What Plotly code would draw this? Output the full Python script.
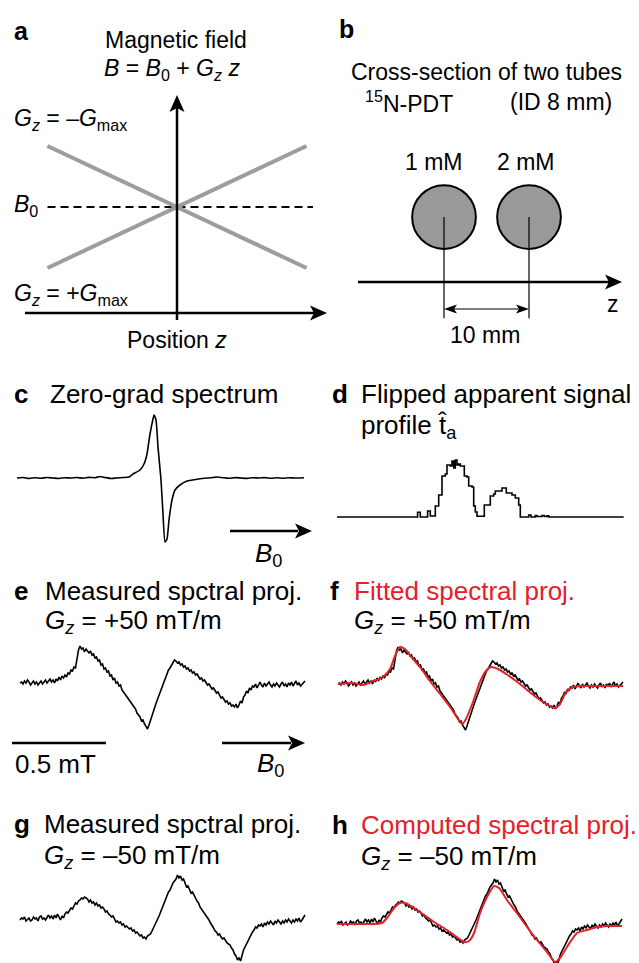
import numpy as np
import plotly.graph_objects as go

W, H = 639, 963
FONT = "Liberation Sans, Arial, Helvetica, sans-serif"
RED = "#e4202a"
GRAY = "#9d9d9d"
TUBE_GRAY = "#98999b"

# ---------------- data ----------------
# panel a : B = B0 + Gz z  (arbitrary units, Gmax = 1)
pos_z = [-1.0, 1.0]
field_neg_grad = [1.0, -1.0]     # Gz = -Gmax
field_pos_grad = [-1.0, 1.0]     # Gz = +Gmax
b0_line_z = [-1.0, 1.05]
b0_line_b = [0.0, 0.0]

# panel b : tubes (mm)
tube_z_mm = [0.0, 10.0]
tube_labels = ["1 mM", "2 mM"]
tube_draw_radius_mm = 3.75
tube_line_bottom_mm = -11.9

# panel c : zero-gradient spectrum (a.u.)
zero_grad_x = [0, 6, 12, 18, 24, 30, 36, 42, 48, 54, 60, 66, 72, 78, 83, 88, 94, 100, 106, 112,
               116, 123, 127, 130, 133, 136, 137, 139, 141, 144, 146, 148, 150, 152, 155, 158, 163, 170, 180, 190,
               196, 200, 206, 212, 218, 224, 230, 236, 242, 248, 254, 260, 266, 272, 278, 287]
zero_grad_y = [0, 0.5, -0.5, 0.3, -0.3, 0.5, 0, -0.5, 0.3, 0, 0.5, -0.3, 0.6, 0.3, 1.5, 0.5, -0.5, 0, 0.5, 1,
               4, 8, 14, 24, 44, 59, 63, 58, 31, -2, -36, -64, -61, -42, -22, -12, -7, -3, -1.3, 0,
               0.5, 1, 0.3, -0.3, 0.4, 0, -0.4, 0.3, 0, 0.4, -0.3, 0.3, -0.2, 0.3, 0, 0.3]

# panel d : flipped apparent signal profile (a.u.)
profile_x = [0, 80.6, 83.3, 90.6, 93.3, 98.3, 101.7, 105, 108.3, 110, 113.3, 115, 116.7, 118.3, 120, 121.7,
             123.3, 127.3, 130, 131.7, 135, 136.7, 138.3, 140, 147.3, 153.3, 156.7, 158.3, 165, 169.3, 175,
             178.3, 181.7, 183.3, 191.7, 194, 198.3, 200, 205, 207.3, 210, 211.7, 286.7]
profile_y = [0, 4.7, 0, 6, 1, 11, 22, 41, 43, 52, 51, 56, 49, 57, 52, 53, 51, 41, 40, 31, 30, 11, 5, 0.7,
             12, 21, 23, 26, 29, 24, 22, 19, 12, 0, 2, 0, 1.5, 0.5, 1.5, 0.5, 1.2, 0, 0]

# panels e-h : spectral projections, field axis in mT (a.u. amplitude)
field_span_mT = 1.516
meas_pos = [0, 1, -1, 2, 0, 3, 1, -2, 0, 2,
            -1, 1, -2, 0, 2, -1, 1, 3, 0, 2,
            4, 1, 3, 0, 4, 2, 6, 3, 7, 5,
            8, 6, 10, 9, 13, 12, 16, 15, 25, 33,
            37, 34, 35, 31, 34, 32, 30, 32, 28, 29,
            25, 26, 22, 23, 18, 19, 14, 15, 11, 12,
            7, 8, 3, 5, 0, 1, -3, -2, -7, -9,
            -11, -13, -15, -17, -19, -21, -24, -26, -30, -32,
            -34, -38, -37, -41, -44, -46, -42, -37, -33, -27,
            -24, -19, -15, -11, -7, -2, 2, 6, 9, 13,
            15, 18, 21, 23, 22, 20, 21, 18, 19, 16,
            17, 14, 15, 12, 13, 10, 11, 8, 9, 6,
            4, 5, 2, 3, 0, -2, -1, -4, -6, -5,
            -8, -10, -9, -13, -15, -14, -17, -19, -18, -21,
            -20, -23, -22, -24, -21, -25, -22, -18, -20, -14,
            -12, -8, -10, -5, -7, -3, -4, -1, -5, -2,
            1, -2, -4, 0, -3, -1, 1, -2, -4, -1,
            -3, 0, -2, -4, -1, 1, -3, -1, -4, 0,
            -2, 1, -3, -1, 2, -2, 0, -3, -1, 1, 2]
meas_neg = [0, 2, 1, 3, -1, 1, 2, -1, 0, 3,
            1, 2, -1, 3, 4, 1, 2, 0, 3, 5,
            2, 4, 1, 5, 2, 6, 3, 0, 4, 2,
            6, 8, 7, 10, 12, 11, 14, 17, 16, 19,
            20, 22, 21, 23, 22, 21, 18, 20, 17, 18,
            15, 17, 14, 15, 12, 13, 11, 8, 9, 6,
            5, 3, 4, 0, -2, -1, -3, -2, -5, -4,
            -7, -6, -8, -9, -8, -11, -10, -13, -12, -14,
            -16, -15, -18, -17, -19, -16, -15, -14, -11, -8,
            -4, -1, 2, 5, 9, 13, 17, 20, 24, 28,
            30, 34, 37, 39, 41, 45, 42, 44, 40, 41,
            36, 33, 34, 30, 27, 28, 24, 22, 19, 17,
            13, 11, 8, 7, 5, 2, 0, -3, -5, -8,
            -11, -12, -15, -14, -17, -19, -18, -21, -23, -24,
            -25, -28, -30, -34, -36, -40, -38, -41, -35, -30,
            -27, -24, -20, -17, -15, -12, -10, -7, -8, -5,
            -6, -4, -7, -3, -5, -2, -4, -1, -3, -5,
            -1, -3, 0, -2, -4, -1, -3, 0, -2, 1,
            -1, -3, 0, -2, 1, -1, 2, -2, 0, 3, 5]
fit_pos_x = [0, .080, .133, .186, .239, .277, .303, .330, .356, .399, .436, .489, .543, .596, .638, .660,
             .681, .718, .755, .787, .814, .851, .894, .947, 1.000, 1.053, 1.106, 1.154, 1.181, 1.213, 1.250,
             1.303, 1.372, 1.447, 1.516]
fit_pos_y = [0, 1, -1, 3, 7, 15, 28, 37, 35, 25, 17, 3, -10, -23, -35, -40, -35, -18, 2, 13, 17, 15, 10, 3,
             -5, -13, -20, -24, -20, -8, -3, -2, -2, -2, -2]
fit_neg_x = [0, .090, .176, .239, .266, .303, .335, .362, .410, .463, .516, .569, .622, .676, .702, .729,
             .761, .798, .835, .862, .904, .957, 1.011, 1.064, 1.117, 1.160, 1.186, 1.223, 1.277, 1.330, 1.383,
             1.436, 1.516]
fit_neg_y = [0, 0, 0, 1, 6, 16, 21, 21, 16, 9, 2, -4, -11, -18, -17, -9, 11, 27, 38, 36, 24, 11, -3, -16,
             -28, -38, -34, -23, -9, -6, -3, -2, -2]
scale_bar_mT = 0.5
scale_bar_start_mT = -0.043
scale_bar_level = -60

# ---------------- helpers ----------------
def X(px):
    return px / W


def Y(py):
    return 1 - py / H


shapes = []
annotations = []


def seg(x0, y0, x1, y1, w=2.5, color="black", dash=None):
    shapes.append(dict(type="line", xref="paper", yref="paper", x0=X(x0), y0=Y(y0), x1=X(x1), y1=Y(y1),
                       line=dict(color=color, width=w, dash=dash)))


def head(tx, ty, d, L=17, hw=7.5, notch=4):
    if d == "r":
        pts = [(tx, ty), (tx - L, ty - hw), (tx - L + notch, ty), (tx - L, ty + hw)]
    elif d == "l":
        pts = [(tx, ty), (tx + L, ty - hw), (tx + L - notch, ty), (tx + L, ty + hw)]
    else:
        pts = [(tx, ty), (tx - hw, ty + L), (tx, ty + L - notch), (tx + hw, ty + L)]
    path = "M " + " L ".join(f"{X(a):.5f},{Y(b):.5f}" for a, b in pts) + " Z"
    shapes.append(dict(type="path", xref="paper", yref="paper", path=path,
                       fillcolor="black", line=dict(width=0)))


def T(text, x, y, size=26, anchor="left", color="black", bold=False):
    if bold:
        text = f"<b>{text}</b>"
    annotations.append(dict(text=text, x=X(x), y=Y(y), xref="paper", yref="paper", xanchor=anchor,
                            yanchor="middle", showarrow=False, font=dict(family=FONT, size=size, color=color)))


layout_axes = {}


def add_axes(n, left, right, top, bottom, x0px, xppu, base_py, yppu):
    xk = "xaxis" if n == 1 else f"xaxis{n}"
    yk = "yaxis" if n == 1 else f"yaxis{n}"
    layout_axes[xk] = dict(domain=[X(left), X(right)], range=[(left - x0px) / xppu, (right - x0px) / xppu],
                           visible=False, anchor=f"y{n}" if n > 1 else "y", fixedrange=True)
    layout_axes[yk] = dict(domain=[Y(bottom), Y(top)], range=[(base_py - bottom) / yppu, (base_py - top) / yppu],
                           visible=False, anchor=f"x{n}" if n > 1 else "x", fixedrange=True)


def ax_names(n):
    return ("x", "y") if n == 1 else (f"x{n}", f"y{n}")


fig = go.Figure()


def line_trace(n, x, y, color="black", width=1.6, shape="linear", dash=None, smoothing=None):
    xa, ya = ax_names(n)
    ln = dict(color=color, width=width, shape=shape, dash=dash)
    if smoothing is not None:
        ln["smoothing"] = smoothing
    fig.add_trace(go.Scatter(x=x, y=y, xaxis=xa, yaxis=ya, mode="lines", line=ln,
                             hoverinfo="skip", showlegend=False))


# ---------------- panel a ----------------
add_axes(1, 0, 330, 80, 350, 177, 129.5, 207, 61)
line_trace(1, b0_line_z, b0_line_b, color="black", width=2, dash="8px,5px")
line_trace(1, pos_z, field_neg_grad, color=GRAY, width=4)
line_trace(1, pos_z, field_pos_grad, color=GRAY, width=4)
seg(177, 320, 177, 106)
head(177, 95, "u")
seg(25, 313, 315, 313)
head(327, 313, "r")
T("a", 12, 31, 25, bold=True)
T("Magnetic field", 176, 40.5, 23, "center")
T("<i>B</i> = <i>B</i><sub>0</sub> + <i>G</i><sub><i>z</i></sub> <i>z</i>", 172, 69, 23, "center")
T("<i>G</i><sub><i>z</i></sub> = \u2013<i>G</i><sub>max</sub>", 12, 119, 23)
T("<i>B</i><sub>0</sub>", 12, 205, 23)
T("<i>G</i><sub><i>z</i></sub> = +<i>G</i><sub>max</sub>", 12, 294, 23)
T("Position <i>z</i>", 177, 340, 23, "center")

# ---------------- panel b ----------------
B_X0, B_PPU = 444, 8.5
add_axes(2, 330, 639, 100, 350, B_X0, B_PPU, 217, B_PPU)
for z in tube_z_mm:
    r = tube_draw_radius_mm
    shapes.append(dict(type="circle", xref="x2", yref="y2", x0=z - r, x1=z + r, y0=-r, y1=r,
                       fillcolor=TUBE_GRAY, line=dict(color="black", width=2)))
    shapes.append(dict(type="line", xref="x2", yref="y2", x0=z, x1=z, y0=0, y1=tube_line_bottom_mm,
                       line=dict(color="black", width=1.2)))
seg(358, 282, 612, 282)
head(622, 282, "r")
px0 = B_X0 + tube_z_mm[0] * B_PPU
px1 = B_X0 + tube_z_mm[1] * B_PPU
seg(px0 + 8, 309, px1 - 8, 309, w=1.2)
head(px0, 309, "l", L=13, hw=4.5, notch=3)
head(px1, 309, "r", L=13, hw=4.5, notch=3)
T("b", 337, 29, 25, bold=True)
T("Cross-section of two tubes", 486, 72, 23, "center")
T("<sup>15</sup>N-PDT", 363, 102, 23)
T("(ID 8 mm)", 508, 102, 23)
for lab, cx in zip(tube_labels, [434, 526]):
    T(lab, cx, 162, 23, "center")
T("z", 613, 304, 23, "center")
T("10 mm", 485, 335, 23, "center")

# ---------------- panel c ----------------
add_axes(3, 0, 320, 400, 560, 17, 1, 478, 1)
line_trace(3, zero_grad_x, zero_grad_y, width=1.6, shape="spline", smoothing=0.5)
seg(230, 531, 298, 531)
head(312, 531, "r")
T("c", 12, 394, 26, bold=True)
T("Zero-grad spectrum", 48, 394, 26)
T("<i>B</i><sub>0</sub>", 253, 554, 26)

# ---------------- panel d ----------------
add_axes(4, 320, 639, 440, 540, 337, 1, 517, 1)
line_trace(4, profile_x, profile_y, width=1.6, shape="hv")
T("d", 330, 394, 26, bold=True)
T("Flipped apparent signal", 359, 394, 26)
T("profile t\u0302<sub>a</sub>", 359, 426, 26)

# ---------------- panels e-h ----------------
FPPU = 188.0
meas_x_pos = np.linspace(0, field_span_mT, len(meas_pos))
meas_x_neg = np.linspace(0, field_span_mT, len(meas_neg))
add_axes(5, 0, 320, 630, 780, 20, FPPU, 683, 1)
add_axes(6, 320, 639, 630, 780, 338, FPPU, 684, 1)
add_axes(7, 0, 320, 860, 963, 20, FPPU, 920, 1)
add_axes(8, 320, 639, 860, 963, 337, FPPU, 924, 1)

line_trace(5, meas_x_pos, meas_pos, width=1.6)
line_trace(5, [scale_bar_start_mT, scale_bar_start_mT + scale_bar_mT], [scale_bar_level, scale_bar_level],
           width=2.5)
line_trace(6, meas_x_pos, meas_pos, width=1.6)
line_trace(6, fit_pos_x, fit_pos_y, color=RED, width=2, shape="spline", smoothing=0.6)
line_trace(7, meas_x_neg, meas_neg, width=1.6)
line_trace(8, meas_x_neg, meas_neg, width=1.6)
line_trace(8, fit_neg_x, fit_neg_y, color=RED, width=2, shape="spline", smoothing=0.6)

seg(222, 743, 291, 743)
head(305, 743, "r")

T("e", 12, 591, 26, bold=True)
T("Measured spctral proj.", 43, 591, 26)
T("<i>G</i><sub><i>z</i></sub> = +50 mT/m", 43, 621, 26)
T("0.5 mT", 13, 764, 26)
T("<i>B</i><sub>0</sub>", 255, 764, 26)

T("f", 328, 591, 26, bold=True)
T("Fitted spectral proj.", 352, 591, 26, color=RED)
T("<i>G</i><sub><i>z</i></sub> = +50 mT/m", 352, 621, 26)

T("g", 12, 824, 26, bold=True)
T("Measured spctral proj.", 42, 824, 26)
T("<i>G</i><sub><i>z</i></sub> = \u201350 mT/m", 42, 856, 26)

T("h", 330, 825, 26, bold=True)
T("Computed spectral proj.", 359, 825, 26, color=RED)
T("<i>G</i><sub><i>z</i></sub> = \u201350 mT/m", 359, 857, 26)

fig.update_layout(width=W, height=H, margin=dict(l=0, r=0, t=0, b=0), paper_bgcolor="white",
                  plot_bgcolor="rgba(0,0,0,0)", shapes=shapes, annotations=annotations,
                  showlegend=False, font=dict(family=FONT), **layout_axes)
fig.write_html("out.html", config={"displayModeBar": False},
               post_script="document.body.style.margin='0px';document.body.style.overflow='hidden';")
